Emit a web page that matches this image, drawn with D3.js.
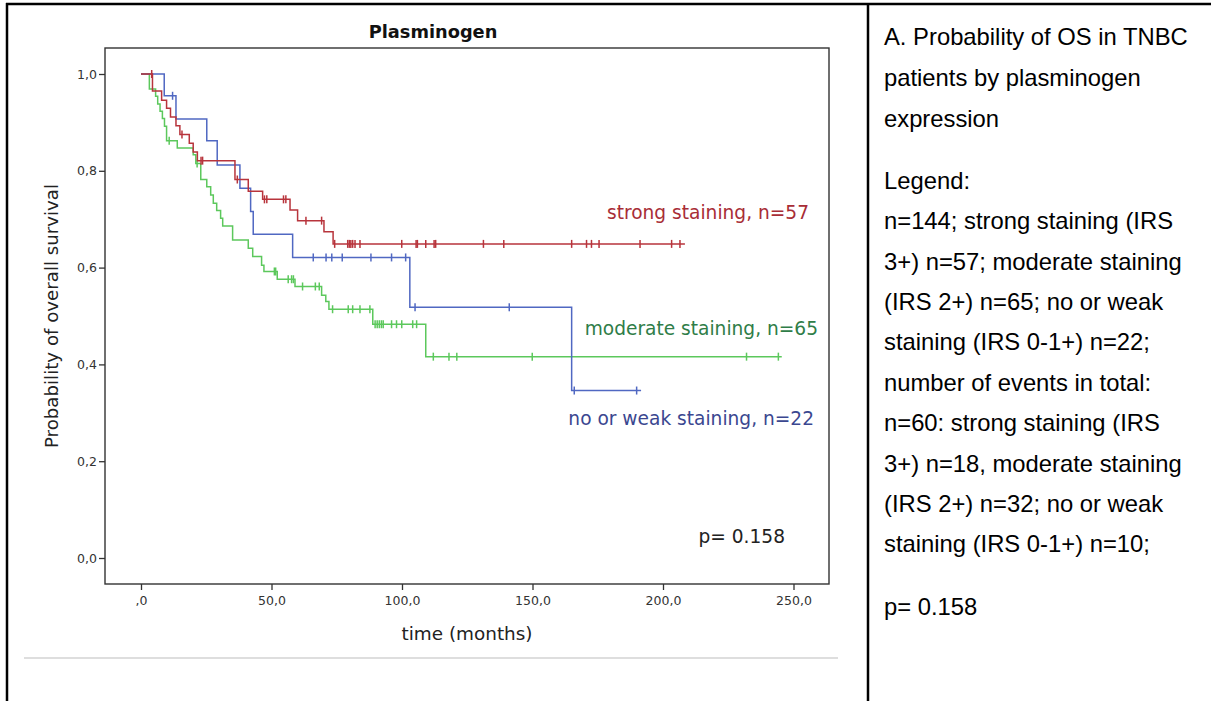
<!DOCTYPE html>
<html>
<head>
<meta charset="utf-8">
<script src="https://cdn.jsdelivr.net/npm/d3@7"></script>
<style>
  html, body { margin: 0; padding: 0; background: #fff; }
  svg { display: block; }
</style>
</head>
<body>
<svg id="chart" width="1211" height="701"></svg>
<script>
// ---------------- DATA ----------------
const xTicks = [0, 50, 100, 150, 200, 250];
const xTickLabels = [",0", "50,0", "100,0", "150,0", "200,0", "250,0"];
const yTicks = [0, 0.2, 0.4, 0.6, 0.8, 1.0];
const yTickLabels = ["0,0", "0,2", "0,4", "0,6", "0,8", "1,0"];

// strong staining (IRS 3+), n=57
const strongTimes = [0, 4.4, 7.9, 9.8, 11.3, 13.4, 14.9, 18.5, 20.0, 21.6, 36.0, 41.1, 46.6, 57.1, 60.0, 70.1, 73.6];
const strongSurv  = [1.0, 0.965, 0.946, 0.929, 0.911, 0.893, 0.875, 0.857, 0.839, 0.821, 0.782, 0.758, 0.741, 0.719, 0.697, 0.674, 0.649];
const strongCensored = [4.1, 15.7, 23.0, 23.6, 36.9, 47.3, 48.2, 54.6, 55.5, 63.2, 69.2, 74.2, 79.2, 79.8, 80.4, 81.1, 82.0, 83.9, 99.9, 105.4, 105.9, 109.1, 112.3, 112.9, 131.2, 139.0, 165.0, 170.7, 172.6, 175.5, 191.2, 203.3, 206.5];
const strongEnd = 208.4;

// moderate staining (IRS 2+), n=65
const moderateTimes = [0, 3.2, 5.6, 6.4, 7.3, 8.2, 9.0, 9.8, 13.9, 20.0, 21.0, 22.9, 25.2, 26.7, 27.7, 29.0, 30.5, 31.3, 35.1, 41.1, 42.8, 46.2, 47.1, 52.2, 59.0, 69.2, 70.8, 72.0, 88.8, 109.1];
const moderateSurv  = [1.0, 0.969, 0.954, 0.938, 0.923, 0.908, 0.892, 0.862, 0.847, 0.833, 0.815, 0.782, 0.767, 0.750, 0.733, 0.718, 0.702, 0.686, 0.657, 0.640, 0.623, 0.605, 0.592, 0.576, 0.561, 0.543, 0.530, 0.514, 0.483, 0.416];
const moderateCensored = [10.8, 21.5, 51.1, 51.6, 56.4, 57.7, 58.4, 61.9, 66.8, 68.3, 73.4, 79.4, 81.1, 83.9, 87.7, 89.7, 90.5, 91.3, 92.1, 92.8, 96.0, 97.9, 99.9, 104.1, 105.6, 112.0, 118.0, 121.0, 149.9, 232.0, 244.2];
const moderateEnd = 245.5;

// no or weak staining (IRS 0-1+), n=22
const weakTimes = [0, 8.9, 13.4, 25.2, 29.2, 37.9, 42.0, 43.0, 58.1, 103.0, 165.0];
const weakSurv  = [1.0, 0.955, 0.907, 0.862, 0.812, 0.764, 0.716, 0.669, 0.621, 0.518, 0.346];
const weakCensored = [12.1, 66.0, 70.9, 73.1, 77.1, 88.1, 96.0, 101.4, 105.0, 141.1, 166.0, 189.9];
const weakEnd = 191.6;

const seriesLabels = ["strong staining, n=57", "moderate staining, n=65", "no or weak staining, n=22"];
const pValueText = "p= 0.158";

const captionLines = [
  "A. Probability of OS in TNBC",
  "patients by plasminogen",
  "expression",
  "Legend:",
  "n=144; strong staining (IRS",
  "3+) n=57; moderate staining",
  "(IRS 2+) n=65; no or weak",
  "staining (IRS 0-1+) n=22;",
  "number of events in total:",
  "n=60: strong staining (IRS",
  "3+) n=18, moderate staining",
  "(IRS 2+) n=32; no or weak",
  "staining (IRS 0-1+) n=10;",
  "p= 0.158"
];

// ---------------- LAYOUT ----------------
const svg = d3.select("#chart");
const chartFont = "'DejaVu Sans', Verdana, sans-serif";
const frame = { left: 105, right: 829, top: 48, bottom: 584 };

const x = d3.scaleLinear().domain([0, 250]).range([141, 793.5]);
const y = d3.scaleLinear().domain([0, 1]).range([558, 74]);

// table borders
svg.append("line").attr("x1", 7).attr("x2", 7).attr("y1", 3).attr("y2", 701).attr("stroke", "#000").attr("stroke-width", 2.5);
svg.append("line").attr("x1", 6).attr("x2", 1211).attr("y1", 4).attr("y2", 4).attr("stroke", "#000").attr("stroke-width", 2.5);
svg.append("line").attr("x1", 868).attr("x2", 868).attr("y1", 3).attr("y2", 701).attr("stroke", "#000").attr("stroke-width", 2.5);

// light separator below chart
svg.append("line").attr("x1", 24).attr("x2", 838).attr("y1", 658).attr("y2", 658).attr("stroke", "#dedede").attr("stroke-width", 2);

// title
svg.append("text").attr("x", 433).attr("y", 38).attr("text-anchor", "middle")
  .attr("font-family", chartFont).attr("font-weight", "bold").attr("font-size", 17.8).attr("fill", "#111")
  .text("Plasminogen");

// plot frame
svg.append("rect").attr("x", frame.left).attr("y", frame.top)
  .attr("width", frame.right - frame.left).attr("height", frame.bottom - frame.top)
  .attr("fill", "none").attr("stroke", "#333").attr("stroke-width", 1.4);

// y axis
const yAxis = d3.axisLeft(y).tickValues(yTicks).tickSize(6).tickPadding(2)
  .tickFormat((d, i) => yTickLabels[i]);
const gy = svg.append("g").attr("transform", `translate(${frame.left},0)`).call(yAxis);
gy.select(".domain").remove();
gy.selectAll("line").attr("stroke", "#333").attr("stroke-width", 1.3);
gy.selectAll("text").attr("font-family", chartFont).attr("font-size", 12.5).attr("fill", "#333");

// x axis
const xAxis = d3.axisBottom(x).tickValues(xTicks).tickSize(6).tickPadding(6)
  .tickFormat((d, i) => xTickLabels[i]);
const gx = svg.append("g").attr("transform", `translate(0,${frame.bottom})`).call(xAxis);
gx.select(".domain").remove();
gx.selectAll("line").attr("stroke", "#333").attr("stroke-width", 1.3);
gx.selectAll("text").attr("font-family", chartFont).attr("font-size", 12.5).attr("fill", "#333");

// axis titles
svg.append("text").attr("x", (frame.left + frame.right) / 2).attr("y", 640).attr("text-anchor", "middle")
  .attr("font-family", chartFont).attr("font-size", 18.4).attr("fill", "#222").text("time (months)");
svg.append("text").attr("transform", `translate(58,${(frame.top + frame.bottom) / 2}) rotate(-90)`)
  .attr("text-anchor", "middle").attr("font-family", chartFont).attr("font-size", 18.2).attr("fill", "#222")
  .text("Probability of overall survival");

// survival curves
const series = [
  { times: strongTimes, surv: strongSurv, cens: strongCensored, end: strongEnd, color: "#b8343c" },
  { times: moderateTimes, surv: moderateSurv, cens: moderateCensored, end: moderateEnd, color: "#5cc85c" },
  { times: weakTimes, surv: weakSurv, cens: weakCensored, end: weakEnd, color: "#5068c2" }
];
const line = d3.line().x(d => x(d[0])).y(d => y(d[1])).curve(d3.curveStepAfter);
const survAt = (s, t) => s.surv[Math.max(0, d3.bisectRight(s.times, t) - 1)];

// draw green, blue, red so red is on top
[series[1], series[2], series[0]].forEach(s => {
  const pts = s.times.map((t, i) => [t, s.surv[i]]);
  pts.push([s.end, s.surv[s.surv.length - 1]]);
  svg.append("path").datum(pts).attr("d", line)
    .attr("fill", "none").attr("stroke", s.color).attr("stroke-width", 1.5);
  svg.append("g").selectAll("line").data(s.cens).join("line")
    .attr("x1", d => x(d)).attr("x2", d => x(d))
    .attr("y1", d => y(survAt(s, d)) - 4).attr("y2", d => y(survAt(s, d)) + 4)
    .attr("stroke", s.color).attr("stroke-width", 1.5);
});

// series labels
const labelColors = ["#a82d36", "#2f7d48", "#3b4790"];
const labelPos = [[809, 219], [818, 335], [814, 425]];
seriesLabels.forEach((txt, i) => {
  svg.append("text").attr("x", labelPos[i][0]).attr("y", labelPos[i][1]).attr("text-anchor", "end")
    .attr("font-family", chartFont).attr("font-size", 18.6).attr("fill", labelColors[i]).text(txt);
});
svg.append("text").attr("x", 785).attr("y", 543).attr("text-anchor", "end")
  .attr("font-family", chartFont).attr("font-size", 18.6).attr("fill", "#222").text(pValueText);

// right caption
const capFont = "'Liberation Sans', Arial, Helvetica, sans-serif";
const capY = [44.5, 85.5, 126.5, 188.5, 229, 269.5, 310, 350, 390.5, 431, 471.5, 511.5, 552, 614.5];
captionLines.forEach((txt, i) => {
  svg.append("text").attr("x", 884).attr("y", capY[i])
    .attr("font-family", capFont).attr("font-size", 23.8).attr("fill", "#000").text(txt);
});
</script>
</body>
</html>
